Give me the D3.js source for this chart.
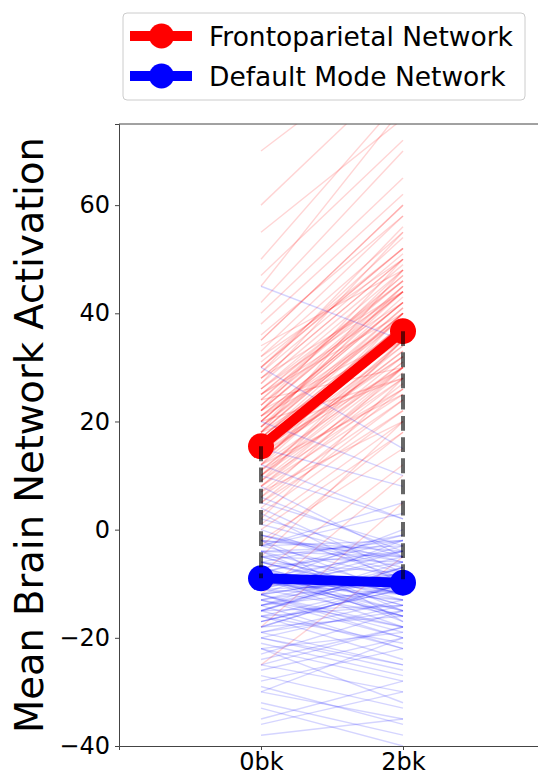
<!DOCTYPE html>
<html>
<head>
<meta charset="utf-8">
<script src="https://cdn.jsdelivr.net/npm/d3@7"></script>
<style>
  body { margin: 0; background: #fff; }
  text { font-family: "DejaVu Sans", sans-serif; }
</style>
</head>
<body>
<div id="chart"></div>
<script>
// conditions on the x axis
const conditions = ["0bk", "2bk"];
const yTicks = [-40, -20, 0, 20, 40, 60];

// network means at 0bk / 2bk
const fpnMean = [15.4, 36.7];
const dmnMean = [-9.0, -9.8];

// individual subjects, frontoparietal network
const fpn0bk = [15, 22, 8, 30, 12, -5, 25, 18, 40, 5, 20, 10, 35, 28, -12, 16, 2, 45, 14, 22,
  9, 26, 33, -2, 19, 11, 50, 7, 24, 17, 13, 38, -18, 21, 29, 4, 60, 15, 23, 0,
  31, 12, 18, 27, -8, 20, 14, 42, 6, 25, 10, 34, 16, 3, 22, 19, 55, -25, 28, 13,
  8, 36, 17, 24, 1, 30, 11, 47, 21, 15, -3, 26, 9, 20, 70, 14, 32, 18, 6, 23,
  12, 18, 20, 25, 10, 14, 22, 16, 28, 8, 19, 24, 13, 21, 17, 30, 11, 26, 15, 20,
  5, 23, 18, 27, 9, 16, 32, 14, 21, 12, 25, 19, 7, 29, 17, 22, 13, 35, 10, 18];
const fpn2bk = [38, 45, 30, 52, 25, 20, 40, 48, 65, 22, 42, 35, 60, 44, 10, 36, 28, 78, 30, 50,
  26, 44, 58, 15, 40, 32, 80, 20, 46, 38, 34, 62, 5, 35, 56, 24, 85, 30, 48, 18,
  52, 40, 28, 55, 12, 44, 36, 70, 30, 42, 28, 48, 38, 22, 36, 45, 76, -5, 50, 33,
  25, 58, 40, 30, 20, 54, 26, 72, 42, 32, 18, 46, 35, 28, 90, 40, 50, 35, 24, 44,
  35, 40, 42, 46, 30, 38, 44, 36, 50, 28, 41, 47, 33, 39, 37, 52, 31, 48, 34, 43,
  26, 45, 40, 49, 29, 36, 55, 32, 42, 30, 47, 39, 27, 51, 38, 44, 35, 60, 31, 41];

// individual subjects, default mode network
const dmn0bk = [-10, -5, -20, 2, -15, -8, -30, 5, -12, -3, -25, -18, 10, -7, -35, -14, 0, -22, -9, -2,
  -28, -11, 15, -16, -6, -38, -13, 3, -20, -4, -10, -26, 8, -17, -1, -32, -8, -12, 20, -19,
  -5, -24, -15, -3, -9, -29, 1, -14, -7, -21, -36, -11, 4, -16, -6, -27, -10, 12, -18, -2,
  30, -13, -23, -8, -33, -4, -15, -1, -19, -12, 6, -25, -9, -17, 45, -14, -6, -22, -30, -11,
  -8, -12, -5, -15, -10, -3, -18, -7, -11, -14, -6, -9, -2, -16, -13, -4, -20, -8, -1, -10,
  -12, -17, -5, -9, -14, -7, -3, -19, -11, -6, -15, -8, -22, -4, -10, -13, -2, -16, -9, -12];
const dmn2bk = [-12, -2, -25, -5, -8, -15, -20, -3, -18, 5, -30, -10, 2, -14, -28, -6, -9, -32, -4, -12,
  -22, -16, 8, -24, -1, -35, -7, -10, -26, -15, 0, -20, -5, -11, -8, -38, -2, -19, 10, -13,
  -12, -18, -22, 3, -16, -36, -6, -9, -14, -27, -30, -4, -8, -21, -12, -33, -3, 2, -10, -17,
  15, -20, -15, -1, -40, -11, -7, -6, -25, -2, -4, -18, -16, -10, 35, -22, -13, -28, -35, -5,
  -10, -8, -12, -14, -6, -9, -16, -4, -13, -11, -8, -15, -5, -10, -18, -3, -14, -12, -7, -9,
  -20, -11, -6, -13, -8, -17, -2, -15, -10, -12, -7, -16, -19, -5, -11, -9, -4, -14, -18, -8];

const networks = [
  { name: "Frontoparietal Network", color: "#ff0000", mean: fpnMean, subjects: d3.zip(fpn0bk, fpn2bk) },
  { name: "Default Mode Network", color: "#0000ff", mean: dmnMean, subjects: d3.zip(dmn0bk, dmn2bk) }
];

const width = 538, height = 777;
const margin = { top: 124, right: -7, bottom: 31, left: 119 };

const svg = d3.select("#chart").append("svg")
  .attr("width", width)
  .attr("height", height);

const x = d3.scaleLinear().domain([-1, 2]).range([margin.left, width - margin.right]);
const y = d3.scaleLinear().domain([-40, 75]).range([height - margin.bottom, margin.top]);

svg.append("clipPath").attr("id", "plotclip")
  .append("rect")
  .attr("x", margin.left).attr("y", margin.top)
  .attr("width", width - margin.right - margin.left)
  .attr("height", height - margin.bottom - margin.top);

const plot = svg.append("g").attr("clip-path", "url(#plotclip)");
const line = d3.line().x((d, i) => x(i)).y(d => y(d));

// thin subject lines
networks.forEach(net => {
  plot.append("g")
    .selectAll("path")
    .data(net.subjects)
    .join("path")
    .attr("d", line)
    .attr("fill", "none")
    .attr("stroke", net.color)
    .attr("stroke-opacity", 0.17)
    .attr("stroke-width", 1.4);
});

// mean lines + markers
networks.forEach(net => {
  plot.append("path")
    .datum(net.mean)
    .attr("d", line)
    .attr("fill", "none")
    .attr("stroke", net.color)
    .attr("stroke-width", 10);
  plot.append("g")
    .selectAll("circle")
    .data(net.mean)
    .join("circle")
    .attr("cx", (d, i) => x(i))
    .attr("cy", d => y(d))
    .attr("r", 13)
    .attr("fill", net.color);
});

// dashed connectors between the two networks
plot.append("g")
  .selectAll("line")
  .data(conditions)
  .join("line")
  .attr("x1", (d, i) => x(i)).attr("x2", (d, i) => x(i))
  .attr("y1", (d, i) => y(fpnMean[i])).attr("y2", (d, i) => y(dmnMean[i]))
  .attr("stroke", "#000")
  .attr("stroke-opacity", 0.6)
  .attr("stroke-width", 4)
  .attr("stroke-dasharray", "14.8,6.4");

// axes
const yAxis = svg.append("g")
  .attr("transform", `translate(${margin.left},0)`)
  .call(d3.axisLeft(y).tickValues(yTicks).tickSize(4).tickPadding(5));
const xAxis = svg.append("g")
  .attr("transform", `translate(0,${height - margin.bottom})`)
  .call(d3.axisBottom(x).tickValues([0, 1]).tickFormat((d, i) => conditions[i]).tickSize(4).tickPadding(3));

[yAxis, xAxis].forEach(ax => {
  ax.select(".domain").attr("stroke", "#444").attr("stroke-width", 1);
  ax.selectAll(".tick line").attr("stroke", "#444");
  ax.selectAll(".tick text").attr("font-size", 24).attr("fill", "#000")
    .attr("font-family", "DejaVu Sans, sans-serif");
});

svg.append("line")
  .attr("x1", margin.left).attr("x2", width)
  .attr("y1", margin.top).attr("y2", margin.top)
  .attr("stroke", "#444");

svg.append("text")
  .attr("transform", `translate(43,${(margin.top + height - margin.bottom) / 2}) rotate(-90)`)
  .attr("text-anchor", "middle")
  .attr("font-size", 38.5)
  .text("Mean Brain Network Activation");

// legend
const legend = svg.append("g").attr("transform", "translate(123,13)");
legend.append("rect")
  .attr("width", 402).attr("height", 87).attr("rx", 4)
  .attr("fill", "#fff").attr("fill-opacity", 0.8)
  .attr("stroke", "#ccc");

const item = legend.selectAll("g.item")
  .data(networks)
  .join("g")
  .attr("class", "item")
  .attr("transform", (d, i) => `translate(0,${23 + i * 40})`);
item.append("line")
  .attr("x1", 7).attr("x2", 69)
  .attr("stroke", d => d.color).attr("stroke-width", 10);
item.append("circle")
  .attr("cx", 38.5).attr("r", 12.5)
  .attr("fill", d => d.color);
item.append("text")
  .attr("x", 86).attr("y", 9.5)
  .attr("font-size", 26.5)
  .text(d => d.name);
</script>
</body>
</html>
